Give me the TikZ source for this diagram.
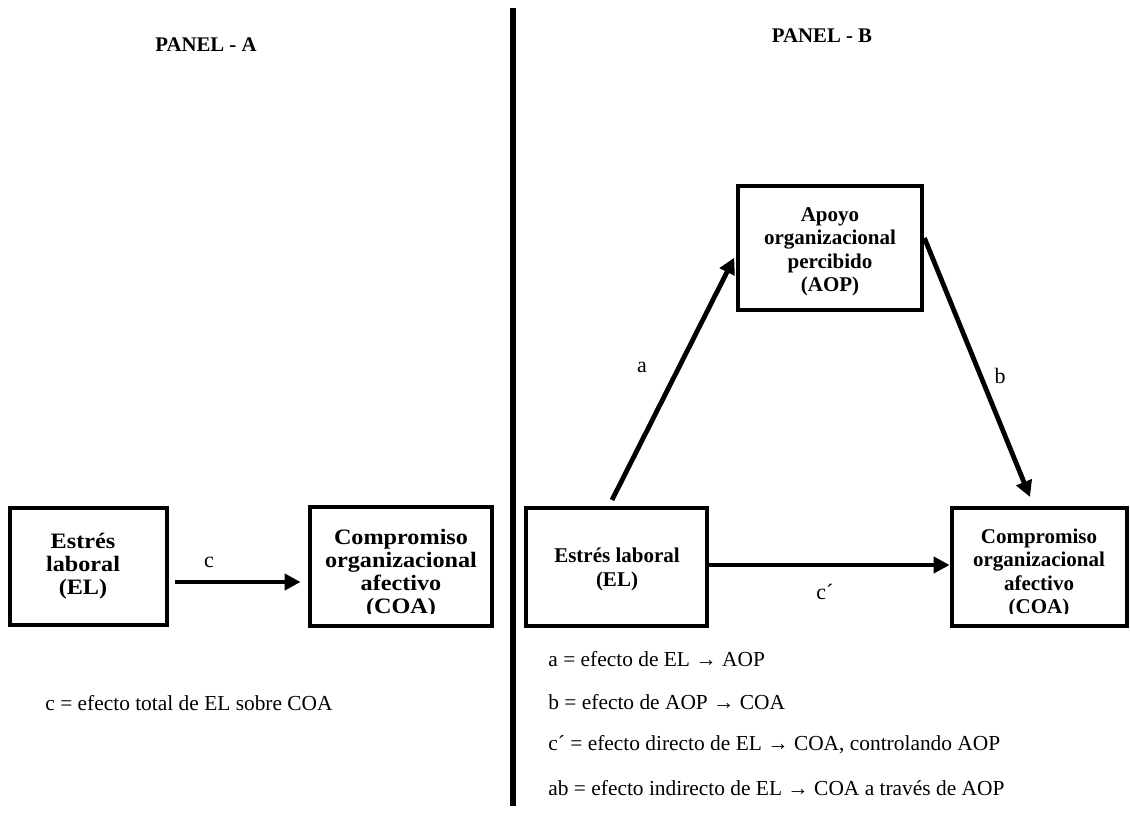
\documentclass[tikz,border=0pt]{standalone}
\usepackage{fontspec}
\setmainfont{Liberation Serif}
\usepackage{graphicx}
\usetikzlibrary{arrows.meta}
% bold, centred box labels; panel A is set a little wider than panel B
\newcommand\labA[1]{\scalebox{1.1}[1]{\fontsize{11}{11.5}\selectfont\bfseries\begin{tabular}{@{}c@{}}#1\end{tabular}}}
\newcommand\labB[1]{{\fontsize{10.5}{11.7}\selectfont\bfseries\begin{tabular}{@{}c@{}}#1\end{tabular}}}
\begin{document}
\begin{tikzpicture}[x=0.5pt,y=-0.5pt,
  varbox/.style={draw,line width=2.4pt,inner sep=0pt},
  path/.style={line width=2.4pt,-{Triangle[length=8pt,width=8pt]}},
  pathlabel/.style={font=\fontsize{11}{12}\selectfont},
  legend/.style={anchor=west,font=\fontsize{10.7}{12}\selectfont,inner sep=0pt},
  paneltitle/.style={font=\fontsize{10.4}{12}\selectfont\bfseries}]
\useasboundingbox (0,0) rectangle (1130,819);
\fill[white] (0,0) rectangle (1130,819);

% divider between the two panels
\draw[line width=3.3pt] (513,8) coordinate (top) -- (513,806) coordinate (bot);

% panel titles
\node[paneltitle] (ta) at (206,45) {PANEL - A};
\node[paneltitle] (tb) at (822,36) {PANEL - B};

% ---------- Panel A ----------
\node[varbox,minimum width=78.5pt,minimum height=58.5pt] (elA) at (88.5,566.5) {};
\node (elAt) at (83,567) {\labA{Estrés\\laboral\\(EL)}};
\node[varbox,minimum width=91pt,minimum height=59.5pt] (coaA) at (401,566.5) {};
\begin{scope}
  \clip (316,512) rectangle (487,613);
  \node (coaAt) at (401,574) {\labA{Compromiso\\organizacional\\afectivo\\(COA)}};
\end{scope}
\coordinate (cs) at (175,582);
\draw[path,shorten >=3.5pt] (cs) -- (coaA.west |- cs);
\node[pathlabel] (lc) at (209,562) {c};
\node[legend] (legA) at (45,703) {c = efecto total de EL sobre COA};

% ---------- Panel B ----------
\node[varbox,minimum width=90.5pt,minimum height=59pt] (elB) at (616.5,567) {};
\node (elBt) at (617,570) {\labB{Estrés laboral\\(EL)}};
\node[varbox,minimum width=92pt,minimum height=62pt] (aop) at (830,248) {};
\node (aopt) at (830,252) {\labB{Apoyo\\organizacional\\percibido\\(AOP)}};
\node[varbox,minimum width=87.5pt,minimum height=59pt] (coaB) at (1039.5,567) {};
\begin{scope}
  \clip (958,513) rectangle (1122,613);
  \node (coaBt) at (1039,574) {\labB{Compromiso\\organizacional\\afectivo\\(COA)}};
\end{scope}

\coordinate (as) at (612,500);
\coordinate (bs) at (aop.east |- 0,238);
\coordinate (be) at (1030,497);
\draw[path,shorten >=1.5pt] (as) -- (aop.west |- 0,255);
\draw[path] (bs) -- (be);
\draw[path] (elB.east |- 0,565) -- (coaB.west |- 0,565);
\node[pathlabel] (la) at (642,367) {a};
\node[pathlabel] (lb) at (1000,376) {b};
\node[pathlabel] (lcp) at (825,592) {c´};

\node[legend] (l1) at (548,659) {a = efecto de EL → AOP};
\node[legend] (l2) at (548,702) {b = efecto de AOP → COA};
\node[legend] (l3) at (548,745) {c´ = efecto directo de EL → COA, controlando AOP};
\node[legend] (l4) at (548,788) {ab = efecto indirecto de EL → COA a través de AOP};
\end{tikzpicture}
\end{document}
